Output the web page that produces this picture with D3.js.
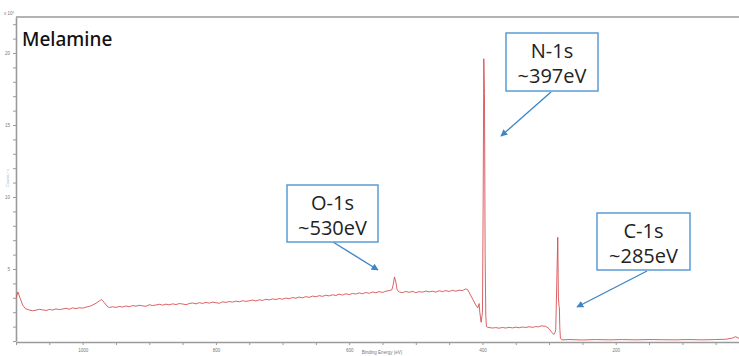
<!DOCTYPE html>
<html>
<head>
<meta charset="utf-8">
<title>Melamine XPS survey</title>
<style>
  body { margin: 0; background: white; }
  svg { display: block; }
  .axis path, .axis line { stroke: #9a9a9a; }
  .axis text { fill: #777; font: 4.5px arial, sans-serif; }
</style>
<script src="https://cdn.jsdelivr.net/npm/d3@7"></script>
</head>
<body>
<div id="chart"></div>
<script>
// binding energy (eV) and counts (x10^3)
var bindingEnergy = [1100, 1097, 1094, 1090, 1086, 1080, 1075, 1070, 1065, 1060, 1055, 1050, 1045, 1040, 1035,
  1030, 1025, 1020, 1015, 1010, 1005, 1000, 995, 990, 985, 980, 975, 972, 968, 964, 960, 955, 950, 945, 940,
  935, 930, 925, 920, 915, 910, 905, 900, 895, 890, 885, 880, 875, 870, 865, 860, 855, 850, 845, 840, 835,
  830, 825, 820, 815, 810, 805, 800, 795, 790, 785, 780, 775, 770, 765, 760, 755, 750, 745, 740, 735, 730,
  725, 720, 715, 710, 705, 700, 695, 690, 685, 680, 675, 670, 665, 660, 655, 650, 645, 640, 635, 630, 625,
  620, 615, 610, 605, 600, 595, 590, 585, 580, 575, 570, 565, 560, 555, 550, 545, 540, 536, 534, 532, 530,
  528, 525, 520, 515, 510, 505, 500, 495, 490, 485, 480, 475, 470, 465, 460, 455, 450, 445, 440, 435, 430,
  425, 422, 418, 414, 410, 407, 405, 404, 402, 400, 399, 398, 397, 396, 395, 394, 392, 385, 380, 375, 370,
  365, 360, 355, 350, 345, 340, 335, 330, 325, 320, 316, 312, 305, 300, 296, 293, 291, 290, 288.5, 287, 286,
  285, 284.5, 284, 283, 281, 270, 250, 230, 210, 190, 170, 150, 130, 110, 90, 70, 50, 35, 25, 20, 15, 8, 0];
var counts = [3.0, 3.4, 3.0, 2.5, 2.25, 2.15, 2.1, 2.14, 2.2, 2.16, 2.12, 2.19, 2.15, 2.23, 2.18,
  2.22, 2.27, 2.21, 2.3, 2.25, 2.31, 2.28, 2.35, 2.4, 2.5, 2.62, 2.78, 2.88, 2.7, 2.45, 2.32, 2.38, 2.33, 2.4, 2.36,
  2.43, 2.38, 2.46, 2.42, 2.48, 2.44, 2.41, 2.52, 2.46, 2.5, 2.55, 2.49, 2.56, 2.51, 2.58, 2.53, 2.6, 2.57, 2.52, 2.6, 2.64,
  2.58, 2.66, 2.61, 2.68, 2.63, 2.7, 2.66, 2.62, 2.72, 2.68, 2.74, 2.7, 2.77, 2.72, 2.8, 2.75, 2.79, 2.84, 2.78, 2.86, 2.82,
  2.9, 2.85, 2.92, 2.88, 2.95, 2.9, 2.98, 2.94, 3.02, 2.97, 3.05, 3.0, 3.08, 3.03, 3.12, 3.07, 3.15, 3.1, 3.18, 3.13, 3.21,
  3.16, 3.25, 3.19, 3.28, 3.22, 3.3, 3.26, 3.34, 3.28, 3.37, 3.31, 3.4, 3.35, 3.43, 3.37, 3.46, 3.5, 3.55, 3.9, 4.45, 4.1,
  3.55, 3.4, 3.36, 3.44, 3.38, 3.45, 3.36, 3.43, 3.39, 3.47, 3.41, 3.46, 3.4, 3.49, 3.43, 3.5, 3.44, 3.52, 3.46, 3.53, 3.5,
  3.62, 3.55, 3.2, 2.85, 2.5, 2.3, 2.6, 2.0, 1.3, 2.0, 9.0, 19.6, 17.2, 6.0, 1.8, 1.0, 0.95, 0.9, 0.93, 0.89, 0.94,
  0.9, 0.95, 0.91, 0.96, 0.92, 0.97, 0.94, 0.99, 0.95, 1.0, 0.98, 1.05, 1.02, 0.85, 0.6, 0.45, 0.6, 0.8, 4.0, 7.2, 3.0,
  2.4, 2.3, 1.0, 0.2, 0.08, 0.1, 0.07, 0.1, 0.08, 0.1, 0.08, 0.1, 0.09, 0.08, 0.1, 0.08, 0.1, 0.12, 0.2, 0.3, 0.18, 0.1, 0.08];

var xTicks = d3.range(0, 1101, 50);
var xLabels = [1000, 800, 600, 400, 200];
var yTicks = d3.range(0, 23, 1);
var yLabels = [5, 10, 15, 20];

var peakNames = ['N-1s', 'O-1s', 'C-1s'];
var peakTexts = ['~397eV', '~530eV', '~285eV'];

// callout boxes (px) and arrow ends (px)
var callouts = [
  { box: [506, 33, 92, 58], from: [551, 92], to: [501, 136] },
  { box: [287, 185, 91, 57], from: [333, 242], to: [378, 270] },
  { box: [597, 213, 93, 57], from: [647, 271], to: [577, 307] }
];

var W = 739, H = 356;
var svg = d3.select('#chart').append('svg')
    .attr('width', W)
    .attr('height', H);

var x = d3.scaleLinear().domain([1100, 0]).range([16, 749]);
var y = d3.scaleLinear().domain([0, 22.5]).range([341, 17]);

svg.append('defs').append('clipPath').attr('id', 'plot')
  .append('rect').attr('x', 16).attr('y', 17).attr('width', W - 16).attr('height', 326);

// top frame line
svg.append('line')
    .attr('x1', 16).attr('x2', W)
    .attr('y1', 17).attr('y2', 17)
    .style('stroke', '#9a9a9a')
    .style('stroke-width', 1.6);

var xAxis = d3.axisBottom(x)
    .tickValues(xTicks)
    .tickSize(3)
    .tickSizeOuter(0)
    .tickFormat(function(d) { return xLabels.indexOf(d) >= 0 ? d : ''; });
svg.append('g').attr('class', 'axis')
    .attr('transform', 'translate(0,342)')
    .call(xAxis)
    .call(function(g) { g.select('.domain').style('stroke-width', 1.6); })
    .selectAll('text').attr('dy', '0.9em');

var yAxis = d3.axisLeft(y)
    .tickValues(yTicks)
    .tickSize(3)
    .tickSizeOuter(0)
    .tickFormat(function(d) { return yLabels.indexOf(d) >= 0 ? d : ''; });
svg.append('g').attr('class', 'axis')
    .attr('transform', 'translate(16,0)')
    .call(yAxis)
    .call(function(g) { g.select('.domain').style('stroke-width', 1.6); });

svg.append('text')
    .attr('x', 4).attr('y', 15)
    .style('font', '4.5px arial')
    .style('fill', '#777')
    .text('x 10\u00b3');

svg.append('text')
    .attr('x', 382).attr('y', 354)
    .attr('text-anchor', 'middle')
    .style('font', '4.5px arial')
    .style('fill', '#777')
    .text('Binding Energy (eV)');

svg.append('text')
    .attr('transform', 'translate(9,178) rotate(-90)')
    .attr('text-anchor', 'middle')
    .style('font', '4px arial')
    .style('fill', '#8ab4d8')
    .text('Counts / s');

// spectrum
var pts = bindingEnergy.map(function(d, i) { return [d, counts[i]]; });
var line = d3.line()
    .x(function(d) { return x(d[0]); })
    .y(function(d) { return y(d[1]); });

svg.append('path')
    .datum(pts)
    .attr('clip-path', 'url(#plot)')
    .attr('d', line)
    .style('fill', 'none')
    .style('stroke', '#d6464a')
    .style('stroke-width', 1)
    .style('opacity', 0.85);

svg.append('text')
    .attr('x', 22).attr('y', 46)
    .style('font-family', '"Noto Sans", sans-serif')
    .style('font-weight', 500)
    .style('font-size', '19px')
    .style('fill', '#111')
    .text('Melamine');

// callouts
svg.select('defs').append('marker')
    .attr('id', 'arrow')
    .attr('viewBox', '0 0 10 10')
    .attr('refX', 9).attr('refY', 5)
    .attr('markerWidth', 7).attr('markerHeight', 7)
    .attr('markerUnits', 'userSpaceOnUse')
    .attr('orient', 'auto')
  .append('path')
    .attr('d', 'M0,0L10,5L0,10z')
    .style('fill', '#3f86c6');

callouts.forEach(function(c, i) {
  svg.append('line')
      .attr('x1', c.from[0]).attr('y1', c.from[1])
      .attr('x2', c.to[0]).attr('y2', c.to[1])
      .attr('marker-end', 'url(#arrow)')
      .style('stroke', '#3f86c6')
      .style('stroke-width', 1.4);

  svg.append('rect')
      .attr('x', c.box[0]).attr('y', c.box[1])
      .attr('width', c.box[2]).attr('height', c.box[3])
      .style('fill', 'white')
      .style('stroke', '#5b9bd5')
      .style('stroke-width', 1.5);

  var t = svg.append('text')
      .attr('text-anchor', 'middle')
      .style('font-family', '"Open Sans", sans-serif')
      .style('font-size', '20px')
      .style('fill', '#222');
  t.append('tspan')
      .attr('x', c.box[0] + c.box[2] / 2)
      .attr('y', c.box[1] + 25)
      .text(peakNames[i]);
  t.append('tspan')
      .attr('x', c.box[0] + c.box[2] / 2)
      .attr('y', c.box[1] + 50)
      .text(peakTexts[i]);
});
</script>
</body>
</html>
